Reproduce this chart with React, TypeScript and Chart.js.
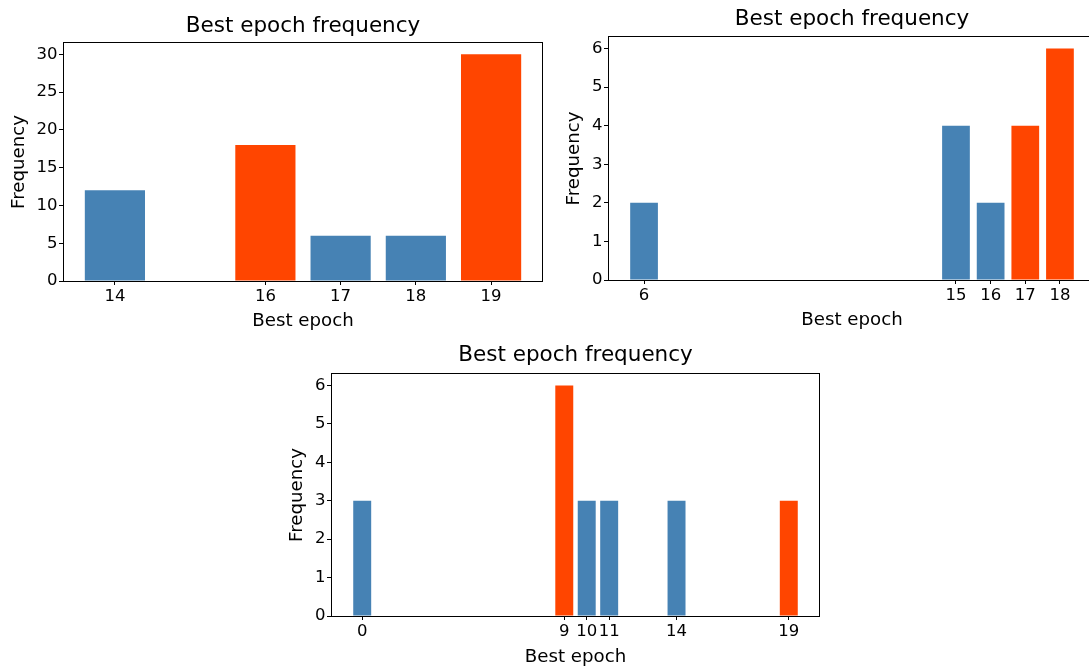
import React, { useEffect, useRef } from 'react';
import { Chart, registerables } from 'chart.js';

Chart.register(...registerables);

const BLUE = '#4682B4';
const ORANGE = '#FF4500';
const FONT = 'DejaVu Sans';

const TITLE = 'Best epoch frequency';
const X_LABEL = 'Best epoch';
const Y_LABEL = 'Frequency';

// Run A
const epochsA = [14, 16, 17, 18, 19];
const countsA = [12, 18, 6, 6, 30];
const highlightA = [false, true, false, false, true];
const yTicksA = [0, 5, 10, 15, 20, 25, 30];

// Run B
const epochsB = [6, 15, 16, 17, 18];
const countsB = [2, 4, 2, 4, 6];
const highlightB = [false, false, false, true, true];
const yTicksB = [0, 1, 2, 3, 4, 5, 6];

// Run C
const epochsC = [0, 9, 10, 11, 14, 19];
const countsC = [3, 6, 3, 3, 3, 3];
const highlightC = [false, true, false, false, false, true];
const yTicksC = [0, 1, 2, 3, 4, 5, 6];

type Box = { left: number; top: number; width: number; height: number };
type Area = { left: number; top: number; right: number; bottom: number };

type PanelProps = {
  epochs: number[];
  counts: number[];
  highlight: boolean[];
  yTicks: number[];
  frame: Box;
  area: Area;
  titleBaseline: number;
  yTitlePad: number;
  xTitlePad: number;
};

function Panel({ epochs, counts, highlight, yTicks, frame, area, titleBaseline, yTitlePad, xTitlePad }: PanelProps) {
  const ref = useRef<HTMLCanvasElement | null>(null);

  useEffect(() => {
    const canvas = ref.current;
    if (!canvas) return;

    // axis limits: bars of width 0.8 plus 5% margins
    const lo = Math.min(...epochs) - 0.4;
    const hi = Math.max(...epochs) + 0.4;
    const xMin = lo - 0.05 * (hi - lo);
    const xMax = hi + 0.05 * (hi - lo);
    const yMax = Math.max(...counts) * 1.05;

    const framePlugin = {
      id: 'frame',
      afterDatasetsDraw(chart: any) {
        const { ctx, chartArea: a } = chart;
        ctx.save();
        ctx.strokeStyle = '#000';
        ctx.lineWidth = 1;
        const l = Math.round(a.left);
        const t = Math.round(a.top);
        const r = Math.round(a.right);
        const b = Math.round(a.bottom);
        ctx.strokeRect(l + 0.5, t - 0.5, r - l - 1, b - t + 1);
        ctx.restore();
      },
    };

    const titlePlugin = {
      id: 'panelTitle',
      afterDraw(chart: any) {
        const { ctx, chartArea: a } = chart;
        ctx.save();
        ctx.fillStyle = '#000';
        ctx.font = `21.5px "${FONT}"`;
        ctx.textAlign = 'center';
        ctx.textBaseline = 'alphabetic';
        ctx.fillText(TITLE, (a.left + a.right) / 2, titleBaseline);
        ctx.restore();
      },
    };

    const tickFont = { family: FONT, size: 16.5 };
    const labelFont = { family: FONT, size: 18.2 };
    const grid = {
      display: true,
      offset: false,
      drawOnChartArea: false,
      drawTicks: true,
      tickLength: 4,
      tickColor: '#000',
      tickWidth: 1,
      color: '#000',
    };

    const chart = new Chart(canvas, {
      type: 'bar',
      data: {
        datasets: [
          {
            data: epochs.map((e, i) => ({ x: e, y: counts[i] })),
            backgroundColor: highlight.map((h) => (h ? ORANGE : BLUE)),
            borderWidth: 0,
            inflateAmount: 0,
            categoryPercentage: 0.8,
            barPercentage: 1,
          },
        ],
      },
      options: {
        animation: false,
        responsive: false,
        events: [],
        layout: {
          padding: { left: 0, top: area.top, right: frame.width - area.right, bottom: 0 },
        },
        plugins: {
          legend: { display: false },
          tooltip: { enabled: false },
          title: { display: false },
        },
        scales: {
          x: {
            type: 'linear',
            offset: false,
            min: xMin,
            max: xMax,
            afterBuildTicks: (s: any) => {
              s.ticks = epochs.map((v) => ({ value: v }));
            },
            afterFit: (s: any) => {
              s.height = frame.height - area.bottom;
            },
            grid,
            border: { display: false },
            ticks: {
              font: tickFont,
              color: '#000',
              padding: 1.5,
              autoSkip: false,
              maxRotation: 0,
              minRotation: 0,
              callback: (v: any) => String(v),
            },
            title: {
              display: true,
              text: X_LABEL,
              color: '#000',
              font: labelFont,
              padding: { top: 0, bottom: xTitlePad },
            },
          },
          y: {
            type: 'linear',
            min: 0,
            max: yMax,
            afterBuildTicks: (s: any) => {
              s.ticks = yTicks.map((v) => ({ value: v }));
            },
            afterFit: (s: any) => {
              s.width = area.left;
            },
            grid,
            border: { display: false },
            ticks: {
              font: tickFont,
              color: '#000',
              padding: 1.5,
              autoSkip: false,
              callback: (v: any) => String(v),
            },
            title: {
              display: true,
              text: Y_LABEL,
              color: '#000',
              font: labelFont,
              padding: { top: yTitlePad, bottom: 0 },
            },
          },
        },
      } as any,
      plugins: [framePlugin, titlePlugin],
    });

    return () => chart.destroy();
  }, []);

  return (
    <canvas
      ref={ref}
      width={frame.width}
      height={frame.height}
      style={{
        position: 'absolute',
        left: frame.left,
        top: frame.top,
        width: frame.width,
        height: frame.height,
      }}
    />
  );
}

export default function App() {
  return (
    <div
      style={{
        position: 'fixed',
        left: 0,
        top: 0,
        width: 1089,
        height: 669,
        overflow: 'hidden',
        background: '#fff',
      }}
    >
      <Panel
        epochs={epochsA}
        counts={countsA}
        highlight={highlightA}
        yTicks={yTicksA}
        frame={{ left: 0, top: 0, width: 560, height: 335 }}
        area={{ left: 63, top: 43, right: 543, bottom: 281 }}
        titleBaseline={32}
        yTitlePad={8.4}
        xTitlePad={3}
      />
      <Panel
        epochs={epochsB}
        counts={countsB}
        highlight={highlightB}
        yTicks={yTicksB}
        frame={{ left: 560, top: 0, width: 560, height: 335 }}
        area={{ left: 48, top: 37, right: 536, bottom: 280 }}
        titleBaseline={25}
        yTitlePad={3.7}
        xTitlePad={4}
      />
      <Panel
        epochs={epochsC}
        counts={countsC}
        highlight={highlightC}
        yTicks={yTicksC}
        frame={{ left: 270, top: 335, width: 580, height: 334 }}
        area={{ left: 61, top: 39, right: 550, bottom: 281 }}
        titleBaseline={26}
        yTitlePad={16}
        xTitlePad={1}
      />
    </div>
  );
}
